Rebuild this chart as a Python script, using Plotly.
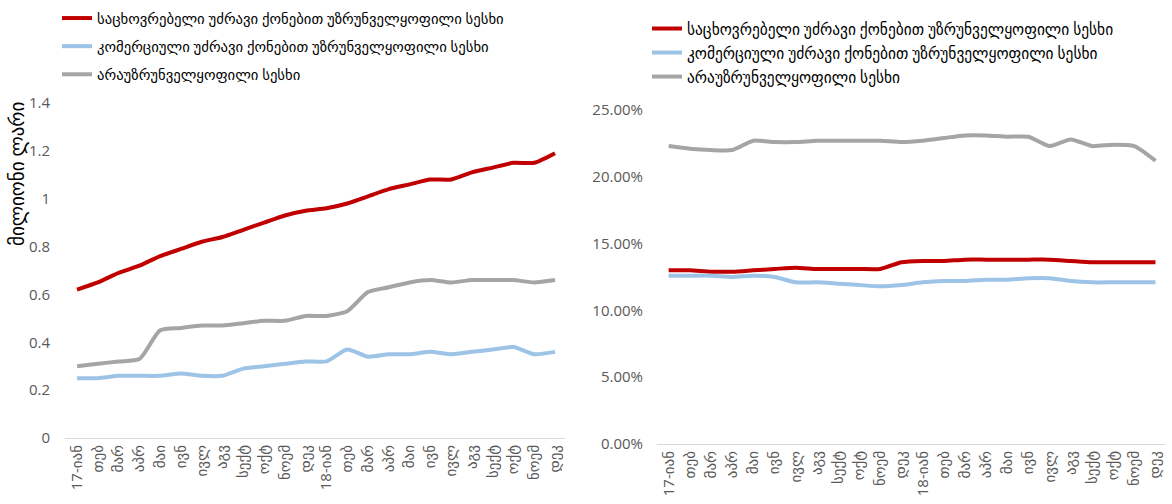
import plotly.graph_objects as go

months = ["17-იან", "თებ", "მარ", "აპრ", "მაი", "ივნ", "ივლ", "აგვ", "სექტ", "ოქტ", "ნოემ", "დეკ",
          "18-იან", "თებ", "მარ", "აპრ", "მაი", "ივნ", "ივლ", "აგვ", "სექტ", "ოქტ", "ნოემ", "დეკ"]

names = ["საცხოვრებელი უძრავი ქონებით უზრუნველყოფილი სესხი",
         "კომერციული უძრავი ქონებით უზრუნველყოფილი სესხი",
         "არაუზრუნველყოფილი სესხი"]

# left chart: amounts
left_res = [0.62, 0.65, 0.69, 0.72, 0.76, 0.79, 0.82, 0.84, 0.87, 0.90, 0.93, 0.95,
            0.96, 0.98, 1.01, 1.04, 1.06, 1.08, 1.08, 1.11, 1.13, 1.15, 1.15, 1.19]
left_com = [0.25, 0.25, 0.26, 0.26, 0.26, 0.27, 0.26, 0.26, 0.29, 0.30, 0.31, 0.32,
            0.32, 0.37, 0.34, 0.35, 0.35, 0.36, 0.35, 0.36, 0.37, 0.38, 0.35, 0.36]
left_uns = [0.30, 0.31, 0.32, 0.33, 0.45, 0.46, 0.47, 0.47, 0.48, 0.49, 0.49, 0.51,
            0.51, 0.53, 0.61, 0.63, 0.65, 0.66, 0.65, 0.66, 0.66, 0.66, 0.65, 0.66]

# right chart: percent
right_res = [13.0, 13.0, 12.9, 12.9, 13.0, 13.1, 13.2, 13.1, 13.1, 13.1, 13.1, 13.6,
             13.7, 13.7, 13.8, 13.8, 13.8, 13.8, 13.8, 13.7, 13.6, 13.6, 13.6, 13.6]
right_com = [12.6, 12.6, 12.6, 12.5, 12.6, 12.5, 12.1, 12.1, 12.0, 11.9, 11.8, 11.9,
             12.1, 12.2, 12.2, 12.3, 12.3, 12.4, 12.4, 12.2, 12.1, 12.1, 12.1, 12.1]
right_uns = [22.3, 22.1, 22.0, 22.0, 22.7, 22.6, 22.6, 22.7, 22.7, 22.7, 22.7, 22.6,
             22.7, 22.9, 23.1, 23.1, 23.0, 23.0, 22.3, 22.8, 22.3, 22.4, 22.3, 21.2]

left_ticks = [0, 0.2, 0.4, 0.6, 0.8, 1, 1.2, 1.4]
left_tick_text = ["0", "0.2", "0.4", "0.6", "0.8", "1", "1.2", "1.4"]
right_ticks = [0, 5, 10, 15, 20, 25]
right_tick_text = ["0.00%", "5.00%", "10.00%", "15.00%", "20.00%", "25.00%"]
y_title = "მილიონი ლარი"

colors = ["#C00000", "#9DC3E6", "#A5A5A5"]
FONT = "Open Sans, DejaVu Sans, sans-serif"
W, H = 1172, 504

x = list(range(len(months)))
fig = go.Figure()

for i, (vals, name) in enumerate(zip([left_res, left_com, left_uns], names)):
    fig.add_trace(go.Scatter(x=x, y=vals, name=name, mode="lines",
                             line=dict(color=colors[i], width=4, shape="spline", smoothing=0.6),
                             xaxis="x", yaxis="y", legend="legend", legendgroup=f"l{i}"))
for i, (vals, name) in enumerate(zip([right_res, right_com, right_uns], names)):
    fig.add_trace(go.Scatter(x=x, y=vals, name=name, mode="lines",
                             line=dict(color=colors[i], width=4, shape="spline", smoothing=0.6),
                             xaxis="x2", yaxis="y2", legend="legend2", legendgroup=f"r{i}"))

def px_x(p):
    return p / W

def px_y(p):
    return 1 - p / H

tickfont = dict(family=FONT, size=15, color="#595959")
numfont = dict(family=FONT, size=15, color="#595959")
common_x = dict(tickmode="array", tickvals=x, ticktext=months, tickangle=-90,
                showgrid=False, zeroline=False, showline=True, linecolor="#D9D9D9",
                linewidth=1, ticks="", tickfont=tickfont)

fig.update_layout(
    width=W, height=H,
    margin=dict(l=0, r=0, t=0, b=0, autoexpand=False),
    paper_bgcolor="white", plot_bgcolor="white",
    font=dict(family=FONT, color="#404040"),
    xaxis=dict(domain=[px_x(65), px_x(565)], range=[-0.58, 23.48], anchor="y", **common_x),
    yaxis=dict(domain=[px_y(438), px_y(103)], range=[0, 1.4], tickmode="array",
               tickvals=left_ticks, ticktext=left_tick_text,
               showgrid=False, zeroline=False, showline=False, tickfont=numfont,
               anchor="x", ticklabelstandoff=14),
    xaxis2=dict(domain=[px_x(657), px_x(1165)], range=[-0.55, 23.45], anchor="y2", **common_x),
    yaxis2=dict(domain=[px_y(444), px_y(110)], range=[0, 25], tickmode="array",
                tickvals=right_ticks, ticktext=right_tick_text,
                showgrid=False, zeroline=False, showline=False, tickfont=numfont,
                anchor="x2", ticklabelstandoff=13),
    legend=dict(x=px_x(57), y=px_y(2), xanchor="left", yanchor="top",
                traceorder="grouped", tracegroupgap=6,
                font=dict(family=FONT, size=14.7, color="#000000"), bgcolor="rgba(0,0,0,0)"),
    legend2=dict(x=px_x(647), y=px_y(12), xanchor="left", yanchor="top",
                 traceorder="grouped", tracegroupgap=1,
                 font=dict(family=FONT, size=15.4, color="#000000"), bgcolor="rgba(0,0,0,0)"),
    annotations=[dict(text=y_title, x=px_x(17), y=px_y(174), xref="paper", yref="paper",
                      xanchor="center", yanchor="middle",
                      showarrow=False, textangle=-90,
                      font=dict(family=FONT, size=19, color="#000000"))],
)

fig.write_html("out.html", config={"displayModeBar": False},
               post_script="document.body.style.margin='0px';")
